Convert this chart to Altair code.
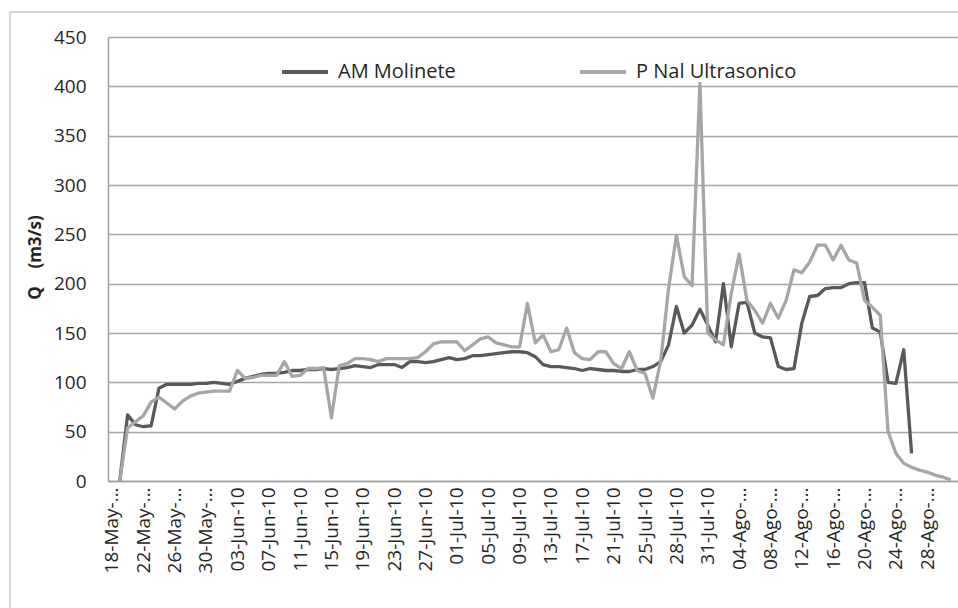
import altair as alt
import pandas as pd

# Daily discharge (m3/s), one value per day from 18-May-10 on; None = no reading
am_molinete = [
    None, 0, 67, 57, 55, 56, 94, 98, 98, 98,
    98, 99, 99, 100, 99, 98, 101, 104, 106, 108,
    109, 109, 110, 112, 112, 113, 113, 114, 113, 114,
    115, 117, 116, 115, 118, 118, 118, 115, 121, 121,
    120, 121, 123, 125, 123, 124, 127, 127, 128, 129,
    130, 131, 131, 130, 126, 118, 116, 116, 115, 114,
    112, 114, 113, 112, 112, 111, 111, 113, 113, 116,
    121, 138, 177, 150, 158, 174, 158, 141, 200, 136,
    180, 181, 150, 146, 145, 116, 113, 114, 160, 187,
    188, 195, 196, 196, 200, 201, 201, 155, 151, 100,
    99, 133, 28, None, None, None, None, None, None,
]

p_nal_ultrasonico = [
    None, 0, 54, 60, 66, 80, 85, 79, 73, 81,
    86, 89, 90, 91, 91, 91, 112, 104, 105, 107,
    107, 107, 121, 106, 107, 114, 114, 115, 64, 117,
    119, 124, 124, 123, 121, 124, 124, 124, 124, 125,
    131, 139, 141, 141, 141, 132, 138, 144, 146, 140,
    138, 136, 136, 180, 140, 148, 131, 133, 155, 130,
    124, 123, 131, 131, 119, 114, 131, 112, 109, 84,
    122, 195, 249, 207, 198, 403, 150, 143, 138, 190,
    230, 183, 173, 160, 180, 165, 183, 214, 211, 222,
    239, 239, 224, 239, 224, 221, 183, 176, 168, 50,
    28, 18, 14, 11, 9, 6, 4, 1, None,
]

# Category labels shown every fourth day
tick_labels = [
    "18-May-…", "22-May-…", "26-May-…", "30-May-…", "03-Jun-10", "07-Jun-10",
    "11-Jun-10", "15-Jun-10", "19-Jun-10", "23-Jun-10", "27-Jun-10", "01-Jul-10",
    "05-Jul-10", "09-Jul-10", "13-Jul-10", "17-Jul-10", "21-Jul-10", "25-Jul-10",
    "28-Jul-10", "31-Jul-10", "04-Ago-…", "08-Ago-…", "12-Ago-…", "16-Ago-…",
    "20-Ago-…", "24-Ago-…", "28-Ago-…", "Promedio",
]

series_names = ["AM Molinete", "P Nal Ultrasonico"]
series_colors = ["#595959", "#a6a6a6"]

rows = []
for name, values in zip(series_names, [am_molinete, p_nal_ultrasonico]):
    for i, v in enumerate(values):
        if v is not None:
            rows.append({"dia": i, "Q": v, "serie": name})
df = pd.DataFrame(rows)

FONT = "Open Sans"
TEXT = "#262626"

# full-length labels sit a little lower than the shortened ones
shown = [t if t.endswith("…") else t + "\u00a0" * 3 for t in tick_labels]
label_js = "[" + ",".join("'" + t + "'" for t in shown) + "]"

x_enc = alt.X(
    "dia:Q",
    scale=alt.Scale(domain=[-0.5, 107.92], nice=False, zero=False),
    axis=alt.Axis(
        values=list(range(0, 4 * len(tick_labels), 4)),
        labelExpr=label_js + "[round(datum.value / 4)]",
        labelAngle=270,
        labelAlign="right",
        labelBaseline="middle",
        labelPadding=6,
        labelFontSize=19,
        labelFont=FONT,
        labelColor=TEXT,
        labelOverlap=False,
        labelBound=False,
        labelFlush=False,
        labelLimit=0,
        ticks=False,
        grid=False,
        domainColor="#a0a0a0",
        domainWidth=1.5,
        title=None,
    ),
)

y_enc = alt.Y(
    "Q:Q",
    scale=alt.Scale(domain=[0, 450], nice=False),
    axis=alt.Axis(
        values=list(range(0, 451, 50)),
        labelFontSize=19,
        labelFont=FONT,
        labelColor=TEXT,
        labelPadding=22,
        ticks=False,
        grid=True,
        gridColor="#a6a6a6",
        gridWidth=1.5,
        domainColor="#a0a0a0",
        domainWidth=1.5,
        title="Q\u00a0\u00a0\u00a0\u00a0(m3/s)",
        titleFont=FONT,
        titleFontSize=17,
        titleFontWeight="bold",
        titleColor=TEXT,
        titleAngle=270,
        titleAlign="center",
        titleBaseline="middle",
        titleX=-73,
        titleY=220,
    ),
)

color_enc = alt.Color(
    "serie:N",
    scale=alt.Scale(domain=series_names, range=series_colors),
    legend=alt.Legend(
        orient="none",
        legendX=172,
        legendY=10,
        direction="horizontal",
        title=None,
        symbolType="stroke",
        symbolSize=2116,
        symbolStrokeWidth=4,
        labelFont=FONT,
        labelFontSize=20,
        labelColor=TEXT,
        labelOffset=8,
        labelLimit=0,
        columnPadding=116,
    ),
)

lines = [
    alt.Chart(df)
    .transform_filter(alt.datum.serie == name)
    .mark_line(strokeWidth=3.3, strokeJoin="round")
    .encode(x=x_enc, y=y_enc, color=color_enc)
    for name in series_names
]

# outer chart border: left and top edges (the rest lies beyond the page)
border_src = pd.DataFrame({"borde": [0]})
border_left = alt.Chart(border_src).mark_rule(color="#c6c6c6", strokeWidth=1.5).encode(
    x=alt.value(-98), y=alt.value(-25), y2=alt.value(600)
)
border_top = alt.Chart(border_src).mark_rule(color="#c6c6c6", strokeWidth=1.5).encode(
    x=alt.value(-98), x2=alt.value(900), y=alt.value(-25)
)

chart = (
    alt.layer(border_left, border_top, *lines)
    .properties(
        width=850,
        height=444,
        autosize=alt.AutoSizeParams(type="none"),
        padding={"left": 108, "top": 37, "right": 0, "bottom": 127},
        background="white",
    )
    .configure_view(strokeWidth=0)
)

chart.save("out.html", embed_options={"renderer": "svg", "actions": False})
